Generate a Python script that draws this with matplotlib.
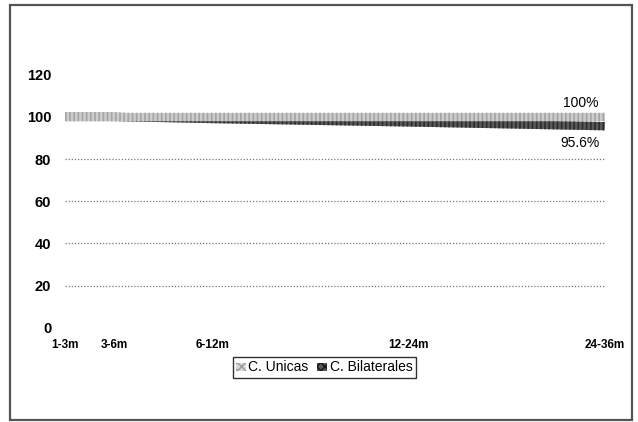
import matplotlib
matplotlib.use("Agg")
import matplotlib.pyplot as plt
from matplotlib.patches import Patch, Rectangle

plt.rcParams['font.family'] = ['Liberation Sans', 'DejaVu Sans']
plt.rcParams['hatch.linewidth'] = 1.0

# ── datos ────────────────────────────────────────────
periodos   = ['1-3m', '3-6m', '6-12m', '12-24m', '24-36m']
meses      = [3, 6, 12, 24, 36]
unicas     = [100, 100, 100, 100, 100]
bilaterales = [100, 100, 99.0, 97.4, 95.6]
yticks     = [0, 20, 40, 60, 80, 100, 120]
grid_vals  = [20, 40, 60, 80, 100]

fig = plt.figure(figsize=(6.38, 4.22), dpi=100)
ax = fig.add_axes([0.102, 0.223, 0.846, 0.6])

# marco exterior (imagen escaneada)
fig.patches.append(Rectangle((0.016, 0.004), 0.975, 0.984, transform=fig.transFigure,
                             fill=False, edgecolor='#555555', lw=1.6))

for g in grid_vals:
    ax.axhline(g, color='#777777', lw=0.9, ls=(0, (1, 1.5)), zorder=1)

# C. Bilaterales: banda oscura (debajo)
ax.plot(meses, bilaterales, color='#5a5a5a', lw=6, solid_capstyle='butt', zorder=2)
ax.plot(meses, bilaterales, color='#2c2c2c', lw=6, ls=(0, (0.2, 0.3)), zorder=3)
# C. Unicas: banda clara punteada (encima)
ax.plot(meses, unicas, color='#cdcdcd', lw=6, solid_capstyle='butt', zorder=4)
ax.plot(meses, unicas, color='#a5a5a5', lw=6, ls=(0, (0.2, 0.3)), zorder=5)

ax.text(34.5, 103.5, '100%', fontsize=10, ha='center', va='bottom')
ax.text(34.5, 91.0, '95.6%', fontsize=10, ha='center', va='top')

ax.set_xlim(3, 36)
ax.set_ylim(0, 120)
ax.set_yticks(yticks)
ax.set_yticklabels([str(v) for v in yticks], fontweight='bold', fontsize=10.5)
ax.set_xticks(meses)
ax.set_xticklabels(periodos, fontweight='bold', fontsize=8.5)
ax.tick_params(length=0)
ax.tick_params(axis='y', pad=10)
ax.tick_params(axis='x', pad=8)
for s in ax.spines.values():
    s.set_visible(False)

handles = [Patch(facecolor='#d8d8d8', edgecolor='#999999', hatch='xxxx', lw=0),
           Patch(facecolor='#555555', edgecolor='#111111', hatch='xxxx', lw=0)]
leg = ax.legend(handles, ['C. Unicas', 'C. Bilaterales'], loc='upper center',
                bbox_to_anchor=(0.48, -0.115), ncol=2, frameon=True, fancybox=False,
                fontsize=10, handlelength=0.7, handleheight=0.5, handletextpad=0.2,
                columnspacing=0.6, borderpad=0.25, borderaxespad=0)
leg.get_frame().set_edgecolor('black')
leg.get_frame().set_linewidth(1.0)

fig.savefig('out.png', dpi=100)
